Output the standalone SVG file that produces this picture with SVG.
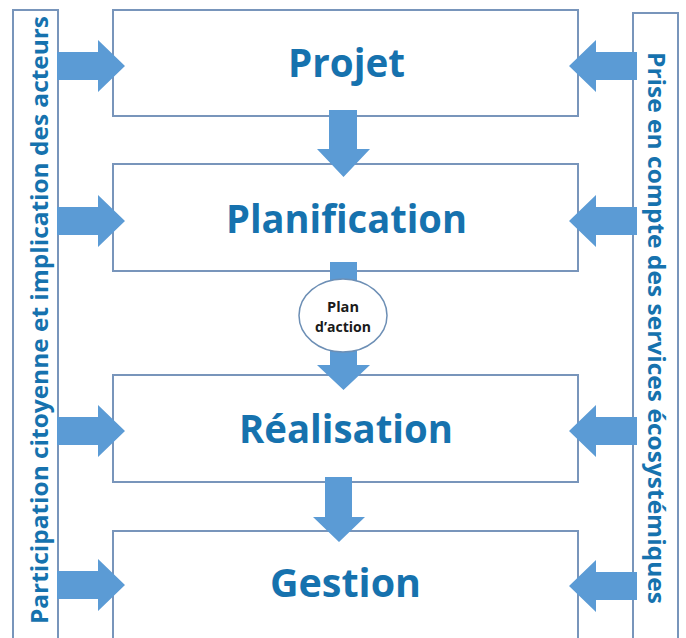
<svg xmlns="http://www.w3.org/2000/svg" width="686" height="638" viewBox="0 0 686 638">
<style>
.box{fill:#fff;stroke:#7895bb;stroke-width:2}
.side{fill:#fff;stroke:#7895bb;stroke-width:2}
.arr{fill:#5b9bd5}
.title{font-family:"Open Sans","Liberation Sans",sans-serif;font-weight:bold;font-size:40px;fill:#1672ae;text-anchor:middle}
.vert{font-family:"Open Sans","Liberation Sans",sans-serif;font-weight:bold;font-size:23px;fill:#1672ae;text-anchor:middle}
.small{font-family:"Open Sans","Liberation Sans",sans-serif;font-weight:bold;font-size:14.5px;fill:#1a1a1a;text-anchor:middle}
</style>
<rect width="686" height="638" fill="#fff"/>
<g id="left-panel">
<rect class="side" x="13" y="10" width="45" height="640"/>
<text class="vert" transform="translate(48,320) rotate(-90)" textLength="608" lengthAdjust="spacingAndGlyphs">Participation citoyenne et implication des acteurs</text>
</g>
<g id="right-panel">
<rect class="side" x="633" y="13" width="45" height="640"/>
<text class="vert" transform="translate(648,328) rotate(90)" textLength="552" lengthAdjust="spacingAndGlyphs">Prise en compte des services écosystémiques</text>
</g>
<g id="projet">
<rect class="box" x="113" y="10" width="465" height="106"/>
<text class="title" x="346.5" y="77" textLength="117" lengthAdjust="spacingAndGlyphs">Projet</text>
</g>
<g id="planification">
<rect class="box" x="113" y="164" width="465" height="107"/>
<text class="title" x="346.5" y="233" textLength="241" lengthAdjust="spacingAndGlyphs">Planification</text>
</g>
<g id="realisation">
<rect class="box" x="113" y="375" width="465" height="107"/>
<text class="title" x="346" y="443" textLength="214" lengthAdjust="spacingAndGlyphs">Réalisation</text>
</g>
<g id="gestion">
<rect class="box" x="113" y="531" width="465" height="120"/>
<text class="title" x="345.5" y="597" textLength="151" lengthAdjust="spacingAndGlyphs">Gestion</text>
</g>
<g id="connectors">
<polygon class="arr" points="57,52 98,52 98,40 125,66 98,92 98,80 57,80"/>
<polygon class="arr" points="57,207 98,207 98,195 125,221 98,247 98,235 57,235"/>
<polygon class="arr" points="57,417 98,417 98,405 125,431 98,457 98,445 57,445"/>
<polygon class="arr" points="57,571 98,571 98,559 125,585 98,611 98,599 57,599"/>
<polygon class="arr" points="637,52 596,52 596,40 569,66 596,92 596,80 637,80"/>
<polygon class="arr" points="637,207 596,207 596,195 569,221 596,247 596,235 637,235"/>
<polygon class="arr" points="637,417 596,417 596,405 569,431 596,457 596,445 637,445"/>
<polygon class="arr" points="637,572 596,572 596,560 569,586 596,612 596,600 637,600"/>
<polygon class="arr" points="329,110 357,110 357,149 370,149 343.5,177 317,149 329,149"/>
<polygon class="arr" points="330,262 357,262 357,365 370,365 343.5,390 317,365 330,365"/>
<polygon class="arr" points="325,477 352,477 352,517 365,517 339,542 313,517 325,517"/>
</g>
<g id="plan-action">
<ellipse cx="343" cy="315.5" rx="44" ry="36.5" fill="#fff" stroke="#6d8fb5" stroke-width="1.5"/>
<text class="small" x="343" y="312" textLength="32" lengthAdjust="spacingAndGlyphs">Plan</text>
<text class="small" x="343" y="332" textLength="56" lengthAdjust="spacingAndGlyphs">d’action</text>
</g>
</svg>
